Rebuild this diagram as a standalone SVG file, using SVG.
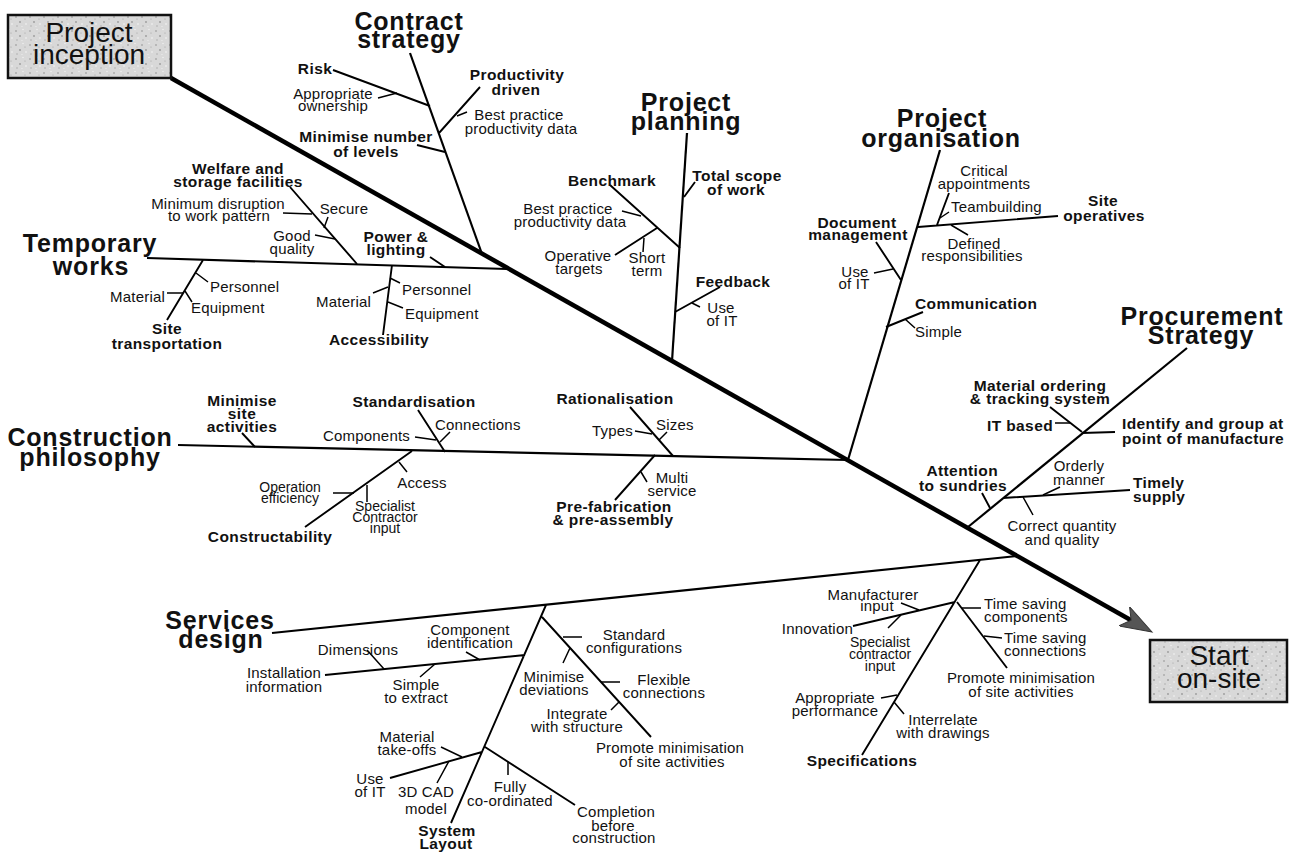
<svg xmlns="http://www.w3.org/2000/svg" width="1315" height="853" viewBox="0 0 1315 853">
<style>
text{font-family:"Liberation Sans",Arial,Helvetica,sans-serif;fill:#111}
.title{font-size:25px;font-weight:bold;letter-spacing:0.8px;text-anchor:middle}
.b{font-size:15.5px;font-weight:bold;letter-spacing:0.4px}
.r{font-size:15px;letter-spacing:0.2px}
.s{font-size:14px}
.m{text-anchor:middle}
.e{text-anchor:end}
.boxt{font-size:28px;text-anchor:middle}
.spine{stroke:#000;stroke-width:4.5;fill:none}
.bone{stroke:#000;stroke-width:2.2;fill:none}
.sub{stroke:#000;stroke-width:1.9;fill:none}
.twig{stroke:#000;stroke-width:1.5;fill:none}
.box{fill:url(#speckle);stroke:#111;stroke-width:2.5}
</style>
<defs>
<pattern id="speckle" width="14" height="14" patternUnits="userSpaceOnUse">
<rect width="14" height="14" fill="#d8d8d8"/>
<circle cx="2" cy="3" r="0.8" fill="#8d8d8d"/>
<circle cx="9" cy="1.5" r="0.7" fill="#f4f4f4"/>
<circle cx="6" cy="8" r="0.9" fill="#9a9a9a"/>
<circle cx="12" cy="10" r="0.8" fill="#f6f6f6"/>
<circle cx="3" cy="12" r="0.7" fill="#a5a5a5"/>
<circle cx="11" cy="5" r="0.6" fill="#a0a0a0"/>
<circle cx="8" cy="12.5" r="0.6" fill="#f0f0f0"/>
</pattern>
<marker id="arrow" markerUnits="userSpaceOnUse" markerWidth="34" markerHeight="22" refX="12" refY="11" orient="auto" viewBox="0 0 34 22">
<path d="M32,11 L0,0 L8,11 L0,22 Z" fill="#555" stroke="#333" stroke-width="1"/>
</marker>
</defs>
<rect width="1315" height="853" fill="#fff"/>

<g id="connectors">
<path class="spine" d="M171,78 L1134.6,622.2" marker-end="url(#arrow)"/>
<g id="c-contract">
<path class="bone" d="M410,53 L482,254"/>
<path class="sub" d="M333,70 L430,106 M480,87 L439,133 M417,145 L445,152"/>
<path class="twig" d="M378,98 L397,93 M467,112 L457,116"/>
</g>
<g id="c-temporary">
<path class="bone" d="M147,258 L507,269"/>
<path class="sub" d="M290,187 L357,264 M430,257 L445,267 M203,260 L167,320 M392,265 L383,335"/>
<path class="twig" d="M283,213 L312,214 M328,217 L324,228 M315,235 L335,239 M208,282 L196,273 M167,293 L183,293 M192,302 L185,291 M400,283 L390,278 M373,293 L388,287 M403,308 L388,302"/>
</g>
<g id="c-construction">
<path class="bone" d="M178,445 L848,460"/>
<path class="sub" d="M242,433 L255,447 M418,410 L445,452 M412,451 L305,527 M630,407 L673,456 M655,455 L615,500"/>
<path class="twig" d="M415,437 L436,440 M450,432 L440,442 M407,472 L399,462 M333,493 L354,493 M367,502 L367,485 M635,431 L652,434 M667,432 L659,440 M647,482 L641,472"/>
</g>
<g id="c-planning">
<path class="bone" d="M687,133 L672,361"/>
<path class="sub" d="M695,182 L684,197 M610,185 L680,248 M720,287 L675,312 M615,255 L657,228"/>
<path class="twig" d="M622,211 L641,216 M643,252 L644,238 M700,307 L692,303"/>
</g>
<g id="c-organisation">
<path class="bone" d="M940,150 L848,460"/>
<path class="sub" d="M918,227 L1058,216 M876,242 L901,280 M923,312 L886,327 M949,193 L937,225"/>
<path class="twig" d="M949,212 L940,218 M951,225 L968,235 M874,273 L893,269 M915,328 L905,319"/>
</g>
<g id="c-procurement">
<path class="bone" d="M1187,348 L968,527"/>
<path class="sub" d="M1050,407 L1082,432 M1082,433 L1115,432 M982,493 L990,508 M1003,498 L1130,490"/>
<path class="twig" d="M1055,423 L1070,423 M1060,487 L1043,495 M1033,515 L1023,497"/>
</g>
<g id="c-services">
<path class="bone" d="M272,633 L1017,556"/>
<path class="sub" d="M325,675 L525,655 M546,605 L451,823 M390,778 L482,752 M485,747 L575,805 M542,617 L651,737 M980,560 L862,755 M955,602 L853,626 M957,602 L1007,668"/>
<path class="twig" d="M367,650 L384,669 M466,652 L480,660 M420,677 L435,664 M441,747 L462,757 M437,783 L449,761 M508,775 L508,762 M563,637 L582,637 M563,663 L570,648 M601,682 L620,682 M611,710 L619,702 M901,603 L919,610 M888,628 L901,615 M962,608 L981,608 M984,636 L1002,638 M881,698 L897,695 M904,714 L894,702"/>
</g>
</g>

<g id="project-inception">
<rect class="box" x="8" y="15" width="163" height="63"/>
<text class="boxt" x="89" y="42">Project<tspan x="89" dy="22">inception</tspan></text>
</g>

<g id="start-on-site">
<rect class="box" x="1150" y="640" width="137" height="62"/>
<text class="boxt" x="1219" y="665">Start<tspan x="1219" dy="23">on-site</tspan></text>
</g>

<g id="contract-strategy">
<text class="title" x="409" y="30">Contract<tspan x="409" dy="18">strategy</tspan></text>
<text class="b m" x="315" y="74">Risk</text>
<text class="r m" x="333" y="99">Appropriate<tspan x="333" dy="12">ownership</tspan></text>
<text class="b m" x="517" y="80">Productivity<tspan x="516" dy="15">driven</tspan></text>
<text class="r m" x="519" y="120">Best practice<tspan x="521" dy="14">productivity data</tspan></text>
<text class="b m" x="366" y="142">Minimise number<tspan x="366" dy="15">of levels</tspan></text>
</g>

<g id="temporary-works">
<text class="title" x="90" y="252">Temporary<tspan x="91" dy="23">works</tspan></text>
<text class="b m" x="238" y="174">Welfare and<tspan x="238" dy="13">storage facilities</tspan></text>
<text class="r m" x="218" y="209">Minimum disruption<tspan x="219" dy="12">to work pattern</tspan></text>
<text class="r m" x="344" y="214">Secure</text>
<text class="r m" x="292" y="241">Good<tspan x="292" dy="13">quality</tspan></text>
<text class="b m" x="396" y="242">Power &amp;<tspan x="396" dy="13">lighting</tspan></text>
<text class="r" x="210" y="292">Personnel</text>
<text class="r e" x="165" y="302">Material</text>
<text class="r" x="191" y="313">Equipment</text>
<text class="b m" x="167" y="334">Site<tspan x="167" dy="15">transportation</tspan></text>
<text class="r" x="402" y="295">Personnel</text>
<text class="r e" x="371" y="307">Material</text>
<text class="r" x="405" y="319">Equipment</text>
<text class="b m" x="379" y="345">Accessibility</text>
</g>

<g id="construction-philosophy">
<text class="title" x="90" y="446">Construction<tspan x="90" dy="20">philosophy</tspan></text>
<text class="b m" x="242" y="406">Minimise<tspan x="242" dy="13">site</tspan><tspan x="242" dy="13">activities</tspan></text>
<text class="b m" x="414" y="407">Standardisation</text>
<text class="r e" x="410" y="441">Components</text>
<text class="r" x="435" y="430">Connections</text>
<text class="r m" x="422" y="488">Access</text>
<text class="s m" x="290" y="492">Operation<tspan x="290" dy="11">efficiency</tspan></text>
<text class="s m" x="385" y="511">Specialist<tspan x="385" dy="11">Contractor</tspan><tspan x="385" dy="11">input</tspan></text>
<text class="b m" x="270" y="542">Constructability</text>
<text class="b m" x="615" y="404">Rationalisation</text>
<text class="r e" x="633" y="436">Types</text>
<text class="r" x="656" y="430">Sizes</text>
<text class="r m" x="672" y="483">Multi<tspan x="672" dy="13">service</tspan></text>
<text class="b m" x="614" y="512">Pre-fabrication<tspan x="613" dy="13">&amp; pre-assembly</tspan></text>
</g>

<g id="project-planning">
<text class="title" x="686" y="111">Project<tspan x="686" dy="19">planning</tspan></text>
<text class="b m" x="737" y="181">Total scope<tspan x="736" dy="14">of work</tspan></text>
<text class="b m" x="612" y="186">Benchmark</text>
<text class="r m" x="568" y="214">Best practice<tspan x="570" dy="13">productivity data</tspan></text>
<text class="r m" x="578" y="261">Operative<tspan x="579" dy="13">targets</tspan></text>
<text class="r m" x="647" y="263">Short<tspan x="647" dy="13">term</tspan></text>
<text class="b m" x="733" y="287">Feedback</text>
<text class="r m" x="721" y="313">Use<tspan x="722" dy="13">of  IT</tspan></text>
</g>

<g id="project-organisation">
<text class="title" x="942" y="127">Project<tspan x="941" dy="20">organisation</tspan></text>
<text class="r m" x="984" y="176">Critical<tspan x="984" dy="13">appointments</tspan></text>
<text class="r" x="951" y="212">Teambuilding</text>
<text class="b m" x="1103" y="206">Site<tspan x="1104" dy="15">operatives</tspan></text>
<text class="r m" x="974" y="249">Defined<tspan x="972" dy="12">responsibilities</tspan></text>
<text class="b m" x="857" y="228">Document<tspan x="858" dy="12">management</tspan></text>
<text class="r m" x="855" y="277">Use<tspan x="854" dy="12">of IT</tspan></text>
<text class="b" x="915" y="309">Communication</text>
<text class="r" x="915" y="337">Simple</text>
</g>

<g id="procurement-strategy">
<text class="title" x="1202" y="325">Procurement<tspan x="1201" dy="19">Strategy</tspan></text>
<text class="b m" x="1040" y="391">Material ordering<tspan x="1040" dy="13">&amp; tracking system</tspan></text>
<text class="b m" x="1020" y="431">IT based</text>
<text class="b" x="1122" y="429">Identify and group at<tspan x="1122" dy="15">point of manufacture</tspan></text>
<text class="b e" x="998" y="476">Attention<tspan x="1007" dy="15">to sundries</tspan></text>
<text class="r m" x="1079" y="471">Orderly<tspan x="1079" dy="14">manner</tspan></text>
<text class="b" x="1133" y="488">Timely<tspan x="1133" dy="14">supply</tspan></text>
<text class="r m" x="1062" y="531">Correct quantity<tspan x="1062" dy="14">and quality</tspan></text>
</g>

<g id="services-design">
<text class="title" x="220" y="629">Services<tspan x="221" dy="19">design</tspan></text>
<text class="r m" x="284" y="678">Installation<tspan x="284" dy="14">information</tspan></text>
<text class="r m" x="358" y="655">Dimensions</text>
<text class="r m" x="470" y="635">Component<tspan x="470" dy="13">identification</tspan></text>
<text class="r m" x="416" y="690">Simple<tspan x="416" dy="13">to extract</tspan></text>
<text class="r m" x="634" y="640">Standard<tspan x="634" dy="13">configurations</tspan></text>
<text class="r m" x="554" y="682">Minimise<tspan x="554" dy="13">deviations</tspan></text>
<text class="r m" x="664" y="685">Flexible<tspan x="664" dy="13">connections</tspan></text>
<text class="r m" x="577" y="719">Integrate<tspan x="577" dy="13">with structure</tspan></text>
<text class="r m" x="670" y="753">Promote minimisation<tspan x="672" dy="14">of site activities</tspan></text>
<text class="r m" x="407" y="742">Material<tspan x="407" dy="13">take-offs</tspan></text>
<text class="r m" x="370" y="784">Use<tspan x="370" dy="13">of IT</tspan></text>
<text class="r m" x="426" y="797">3D CAD<tspan x="426" dy="17">model</tspan></text>
<text class="b m" x="447" y="836">System<tspan x="446" dy="13">Layout</tspan></text>
<text class="r m" x="510" y="792">Fully<tspan x="510" dy="14">co-ordinated</tspan></text>
<text class="r m" x="616" y="817">Completion<tspan x="613" dy="14">before</tspan><tspan x="614" dy="12">construction</tspan></text>
<text class="r m" x="873" y="600">Manufacturer<tspan x="877" dy="11">input</tspan></text>
<text class="r e" x="853" y="634">Innovation</text>
<text class="s m" x="880" y="647">Specialist<tspan x="880" dy="12">contractor</tspan><tspan x="880" dy="12">input</tspan></text>
<text class="r" x="984" y="609">Time saving<tspan x="984" dy="13">components</tspan></text>
<text class="r" x="1004" y="643">Time saving<tspan x="1004" dy="13">connections</tspan></text>
<text class="r m" x="1021" y="683">Promote minimisation<tspan x="1021" dy="14">of site activities</tspan></text>
<text class="r m" x="835" y="703">Appropriate<tspan x="835" dy="13">performance</tspan></text>
<text class="r m" x="943" y="725">Interrelate<tspan x="943" dy="13">with drawings</tspan></text>
<text class="b m" x="862" y="766">Specifications</text>
</g>
</svg>
